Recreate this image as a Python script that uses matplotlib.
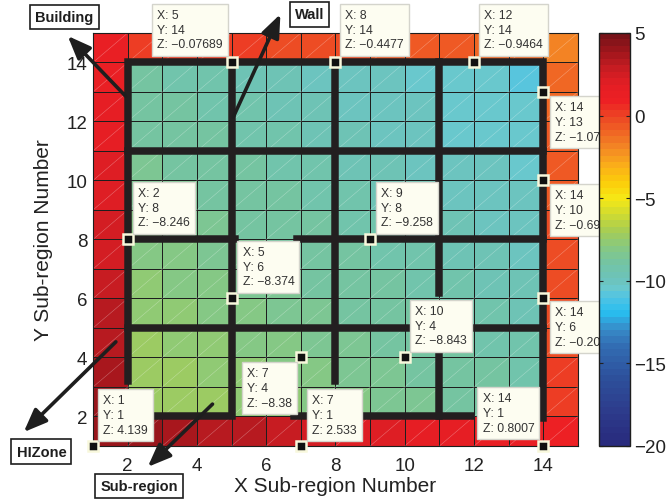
"""Sub-region map with walls and data tips (pcolor style grid)."""
import numpy as np
import matplotlib

matplotlib.use("Agg")
import matplotlib.pyplot as plt
from matplotlib.collections import LineCollection
from matplotlib.colors import LinearSegmentedColormap

plt.rcParams["font.family"] = ["Liberation Sans", "DejaVu Sans"]

# ---- data -------------------------------------------------------------
x_edges = list(range(1, 16))
y_edges = list(range(1, 16))

# cell values, bottom row (y=1) first, x = 1..14 left to right
z_rows = [
  [4.139, 3.85, 3.6, 3.4, 3.15, 2.85, 2.533, 2.2, 2.0, 1.85, 1.65, 1.4, 1.1, 0.8007],
  [3.9, -7.15, -7.32, -7.49, -7.66, -7.83, -8.00, -8.17, -8.34, -8.51, -8.68, -8.85, -9.02, 0.0],
  [3.7, -7.32, -7.49, -7.66, -7.83, -8.00, -8.17, -8.34, -8.51, -8.68, -8.85, -9.02, -9.19, -0.05],
  [3.4, -7.49, -7.66, -7.83, -8.00, -8.17, -8.38, -8.51, -8.68, -8.843, -9.02, -9.19, -9.36, -0.1],
  [3.1, -7.66, -7.83, -8.00, -8.17, -8.34, -8.51, -8.68, -8.85, -9.02, -9.19, -9.36, -9.53, -0.15],
  [2.9, -7.83, -8.00, -8.17, -8.374, -8.51, -8.68, -8.85, -9.02, -9.19, -9.36, -9.53, -9.70, -0.20],
  [2.6, -8.00, -8.17, -8.34, -8.51, -8.68, -8.85, -9.02, -9.19, -9.36, -9.53, -9.70, -9.87, -0.3],
  [2.3, -8.246, -8.34, -8.51, -8.68, -8.85, -9.02, -9.19, -9.258, -9.53, -9.70, -9.87, -10.04, -0.42],
  [2.1, -8.34, -8.51, -8.68, -8.85, -9.02, -9.19, -9.36, -9.53, -9.70, -9.87, -10.04, -10.21, -0.55],
  [1.9, -8.51, -8.68, -8.85, -9.02, -9.19, -9.36, -9.53, -9.70, -9.87, -10.04, -10.21, -10.38, -0.69],
  [1.7, -8.68, -8.85, -9.02, -9.19, -9.36, -9.53, -9.70, -9.87, -10.04, -10.3, -10.4, -10.5, -0.8],
  [1.5, -8.85, -9.02, -9.19, -9.36, -9.53, -9.70, -9.87, -10.04, -10.21, -10.4, -10.5, -10.6, -0.95],
  [1.3, -9.02, -9.19, -9.36, -9.53, -9.70, -9.87, -10.04, -10.21, -10.38, -10.5, -10.6, -10.7, -1.07],
  [1.1, 0.05, 0.0, -0.04, -0.07689, -0.2, -0.33, -0.4477, -0.57, -0.7, -0.82, -0.9464, -1.2, -2.0],
]

# walls, as polylines
wall_x = [
  [2, 2, 14, 14],
  [2.85, 5, 5],
  [6.8, 11.9],
  [11, 11],
  [11, 11],
  [8, 8],
  [2, 14],
  [2, 5.1],
  [6.9, 14],
  [2, 14],
]
wall_y = [
  [3.2, 14, 14, 1.95],
  [2, 2, 14],
  [2, 2],
  [2, 4.1],
  [6.2, 14],
  [3.2, 14],
  [11, 11],
  [8, 8],
  [8, 8],
  [5, 5],
]

# data tips
tip_x = [5, 8, 12, 14, 14, 14, 2, 9, 5, 10, 7, 1, 7, 14]
tip_y = [14, 14, 14, 13, 10, 6, 8, 8, 6, 4, 4, 1, 1, 1]
tip_z = ["\u22120.07689", "\u22120.4477", "\u22120.9464", "\u22121.07", "\u22120.69",
         "\u22120.20", "\u22128.246", "\u22129.258", "\u22128.374", "\u22128.843",
         "\u22128.38", "4.139", "2.533", "0.8007"]

# call-out labels: text, arrow tail, arrow head, label centre (data units)
callouts = [
  ("Building", (1.94, 12.86), (0.27, 14.9), (0.18, 15.53)),
  ("Wall", (5.05, 12.15), (6.41, 15.64), (7.25, 15.63)),
  ("HIZone", (1.66, 4.53), (-1.0, 1.47), (-0.49, 0.81)),
  ("Sub-region", (4.45, 2.42), (2.58, 0.29), (2.33, -0.37)),
]

# ---- style ------------------------------------------------------------
# muted jet-like map (value, rgb)
cmap_stops = [
  (5, (120, 18, 24)), (4, (160, 22, 28)), (3, (200, 28, 34)), (2, (228, 30, 36)),
  (1, (237, 32, 36)), (0, (237, 70, 36)), (-1, (240, 105, 36)), (-2, (244, 140, 36)),
  (-3, (250, 175, 25)), (-4, (252, 205, 10)), (-5, (246, 232, 22)), (-6, (205, 218, 50)),
  (-7, (165, 205, 85)), (-8, (135, 200, 130)), (-9, (115, 196, 165)), (-10, (108, 195, 188)),
  (-10.5, (105, 200, 206)), (-11, (82, 196, 226)), (-12, (40, 190, 240)), (-13, (55, 140, 200)),
  (-14, (50, 110, 180)), (-16, (45, 80, 155)), (-18, (45, 60, 140)), (-20, (40, 42, 125)),
]
VMIN, VMAX = -20, 5
cmap = LinearSegmentedColormap.from_list(
  "muted_jet",
  [((v - VMIN) / (VMAX - VMIN), tuple(c / 255 for c in rgb)) for v, rgb in sorted(cmap_stops)],
  N=64,
)

WALL = "#231f20"
PX = 0.72  # points per pixel at dpi 100
TIP_PAD = 5  # px

# (ha, va, dx, dy) box edge offset from marker, pixels, y up
tip_layout = [
  ("right", "bottom", -4, 7), ("left", "bottom", 5, 7), ("left", "bottom", 5, 7),
  ("left", "top", 7, -4), ("left", "top", 7, -4), ("left", "top", 7, -3),
  ("left", "bottom", 5, 6), ("left", "bottom", 6, 6), ("left", "bottom", 6, 6),
  ("left", "bottom", 5, 6), ("right", "top", -4, -5), ("left", "bottom", 5, 5),
  ("left", "bottom", 6, 5), ("right", "bottom", -4, 7),
]

fig = plt.figure(figsize=(6.72, 5.02), dpi=100)
ax = fig.add_axes([0.1384, 0.1096, 0.7217, 0.8227])
cax = fig.add_axes([0.8914, 0.1096, 0.0461, 0.8227])

mesh = ax.pcolormesh(
  x_edges, y_edges, np.array(z_rows), cmap=cmap, vmin=VMIN, vmax=VMAX,
  edgecolors="#1e1e1e", linewidth=0.7,
)

# faint triangle seams, as in the exported original
seams = [[(x0, y0), (x0 + 1, y0 + 1)] for x0 in x_edges[:-1] for y0 in y_edges[:-1]]
ax.add_collection(LineCollection(seams, colors="white", linewidths=0.4, alpha=0.35, zorder=2))

for xs, ys in zip(wall_x, wall_y):
  ax.plot(xs, ys, color=WALL, lw=5.4, solid_capstyle="projecting",
          solid_joinstyle="miter", zorder=3, clip_on=False)

ax.plot(tip_x, tip_y, ls="none", marker="s", ms=7.5, mfc="#111111",
        mec="#f8f8dc", mew=1.8, zorder=5, clip_on=False)

for x, y, z, (ha, va, dx, dy) in zip(tip_x, tip_y, tip_z, tip_layout):
  ox = dx + (TIP_PAD if ha == "left" else -TIP_PAD)
  oy = dy + (TIP_PAD if va == "bottom" else -TIP_PAD)
  ax.annotate(
    f"X: {x}\nY: {y}\nZ: {z}",
    xy=(x, y), xytext=(ox * PX, oy * PX), textcoords="offset points",
    ha=ha, va=va, multialignment="left", fontsize=8.8, color="#333333",
    linespacing=1.32,
    bbox=dict(boxstyle="square,pad=0.42", fc="#fdfdf1", ec="#d4d4cc", lw=1.0),
    zorder=8, annotation_clip=False,
  )

for label, tail, head, centre in callouts:
  ax.annotate(
    "", xy=head, xytext=tail, annotation_clip=False,
    arrowprops=dict(arrowstyle="-|>,head_length=0.7,head_width=0.28",
                    mutation_scale=20, lw=2.6, color="#1e1e1e",
                    shrinkA=0, shrinkB=0),
    zorder=9,
  )
  ax.text(centre[0], centre[1], label, ha="center", va="center", fontsize=10.5,
          fontweight="bold", color="#1e1e1e", clip_on=False, zorder=9,
          bbox=dict(boxstyle="square,pad=0.35", fc="white", ec="#1e1e1e", lw=1.2))

ax.set_xlim(1, 15)
ax.set_ylim(1, 15)
ax.set_xticks([2, 4, 6, 8, 10, 12, 14])
ax.set_yticks([2, 4, 6, 8, 10, 12, 14])
ax.tick_params(axis="both", length=0, labelsize=13.5, colors="#222222")
ax.tick_params(axis="x", pad=8)
ax.tick_params(axis="y", pad=4)
ax.set_xlabel("X Sub-region Number", fontsize=15, color="#222222")
ax.set_ylabel("Y Sub-region Number", fontsize=15, color="#222222")
ax.xaxis.set_label_coords(0.5, -0.073)
ax.yaxis.set_label_coords(-0.082, 0.5)
for sp in ax.spines.values():
  sp.set_linewidth(0.8)
  sp.set_color("#1e1e1e")

cb = fig.colorbar(mesh, cax=cax, ticks=[-20, -15, -10, -5, 0, 5])
cb.outline.set_linewidth(1.0)
cb.outline.set_edgecolor("#1e1e1e")
cax.tick_params(axis="y", direction="in", length=3, width=0.8, left=True, right=True,
                labelsize=13.5, pad=3, colors="#222222")

fig.savefig("out.png", dpi=100)
